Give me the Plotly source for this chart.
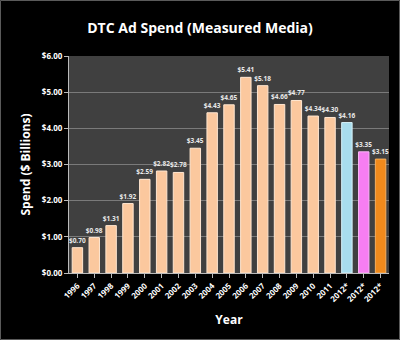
import plotly.graph_objects as go

years = ["1996", "1997", "1998", "1999", "2000", "2001", "2002", "2003", "2004",
         "2005", "2006", "2007", "2008", "2009", "2010", "2011", "2012*", "2012*", "2012*"]
spend = [0.70, 0.98, 1.31, 1.92, 2.59, 2.82, 2.78, 3.45, 4.43,
         4.65, 5.41, 5.18, 4.66, 4.77, 4.34, 4.30, 4.16, 3.35, 3.15]
bar_colors = ["#FBC89E"] * 16 + ["#A8DDEE", "#F77EF2", "#F08A1C"]
line_colors = ["#FFE6D0"] * 16 + ["#D6F1F9", "#FBB5F8", "#F6B060"]

x_pos = list(range(len(years)))

W, H = 400, 340
ml, mr, mt, mb = 69, 11, 56, 67
pw, ph = W - ml - mr, H - mt - mb

fig = go.Figure(go.Bar(
    x=x_pos, y=spend,
    marker=dict(color=bar_colors, line=dict(color=line_colors, width=1)),
    width=0.62,
    text=[f"<b>${v:.2f}</b>" for v in spend],
    textposition="outside",
    constraintext="none",
    textfont=dict(family="Open Sans", size=6.5, color="#E8E8E8"),
    cliponaxis=False,
))

fig.update_layout(
    width=W, height=H,
    margin=dict(l=ml, r=mr, t=mt, b=mb),
    paper_bgcolor="#000000",
    plot_bgcolor="#404040",
    showlegend=False,
    title=dict(text="<b>DTC Ad Spend (Measured Media)</b>",
               font=dict(family="Open Sans", size=14, color="white"),
               x=0.5, xanchor="center", y=1 - 28 / H, yanchor="middle"),
    xaxis=dict(
        tickmode="array", tickvals=x_pos, ticktext=[f"<b>{y}</b>" for y in years],
        tickangle=-45, range=[-0.5, len(years) - 0.5],
        tickfont=dict(family="Open Sans", size=8, color="white"),
        ticks="outside", ticklen=4, tickcolor="#BBBBBB",
        showline=True, linecolor="#BBBBBB", linewidth=1,
        title=dict(text="<b>Year</b>", font=dict(family="Open Sans", size=12, color="white"),
                   standoff=12),
        showgrid=False,
    ),
    yaxis=dict(
        range=[0, 6], tickvals=[0, 1, 2, 3, 4, 5, 6],
        ticktext=[f"<b>${v:.2f}</b>" for v in range(7)],
        tickfont=dict(family="Open Sans", size=8, color="white"),
        ticks="outside", ticklen=4, tickcolor="#BBBBBB",
        showline=True, linecolor="#BBBBBB", linewidth=1,
        gridcolor="#7A7A7A", gridwidth=1,
        title=dict(text="<b>Spend ($ Billions)</b>",
                   font=dict(family="Open Sans", size=12, color="white"), standoff=8),
        zeroline=False,
    ),
    bargap=0.3,
)

# thin frame around the whole figure
fig.add_shape(type="rect", xref="paper", yref="paper",
              x0=(-ml + 0.5) / pw, x1=1 + (mr - 0.5) / pw,
              y0=(-mb + 0.5) / ph, y1=1 + (mt - 0.5) / ph,
              line=dict(color="#5A5A5A", width=1), layer="below")

fig.write_html("out.html")
